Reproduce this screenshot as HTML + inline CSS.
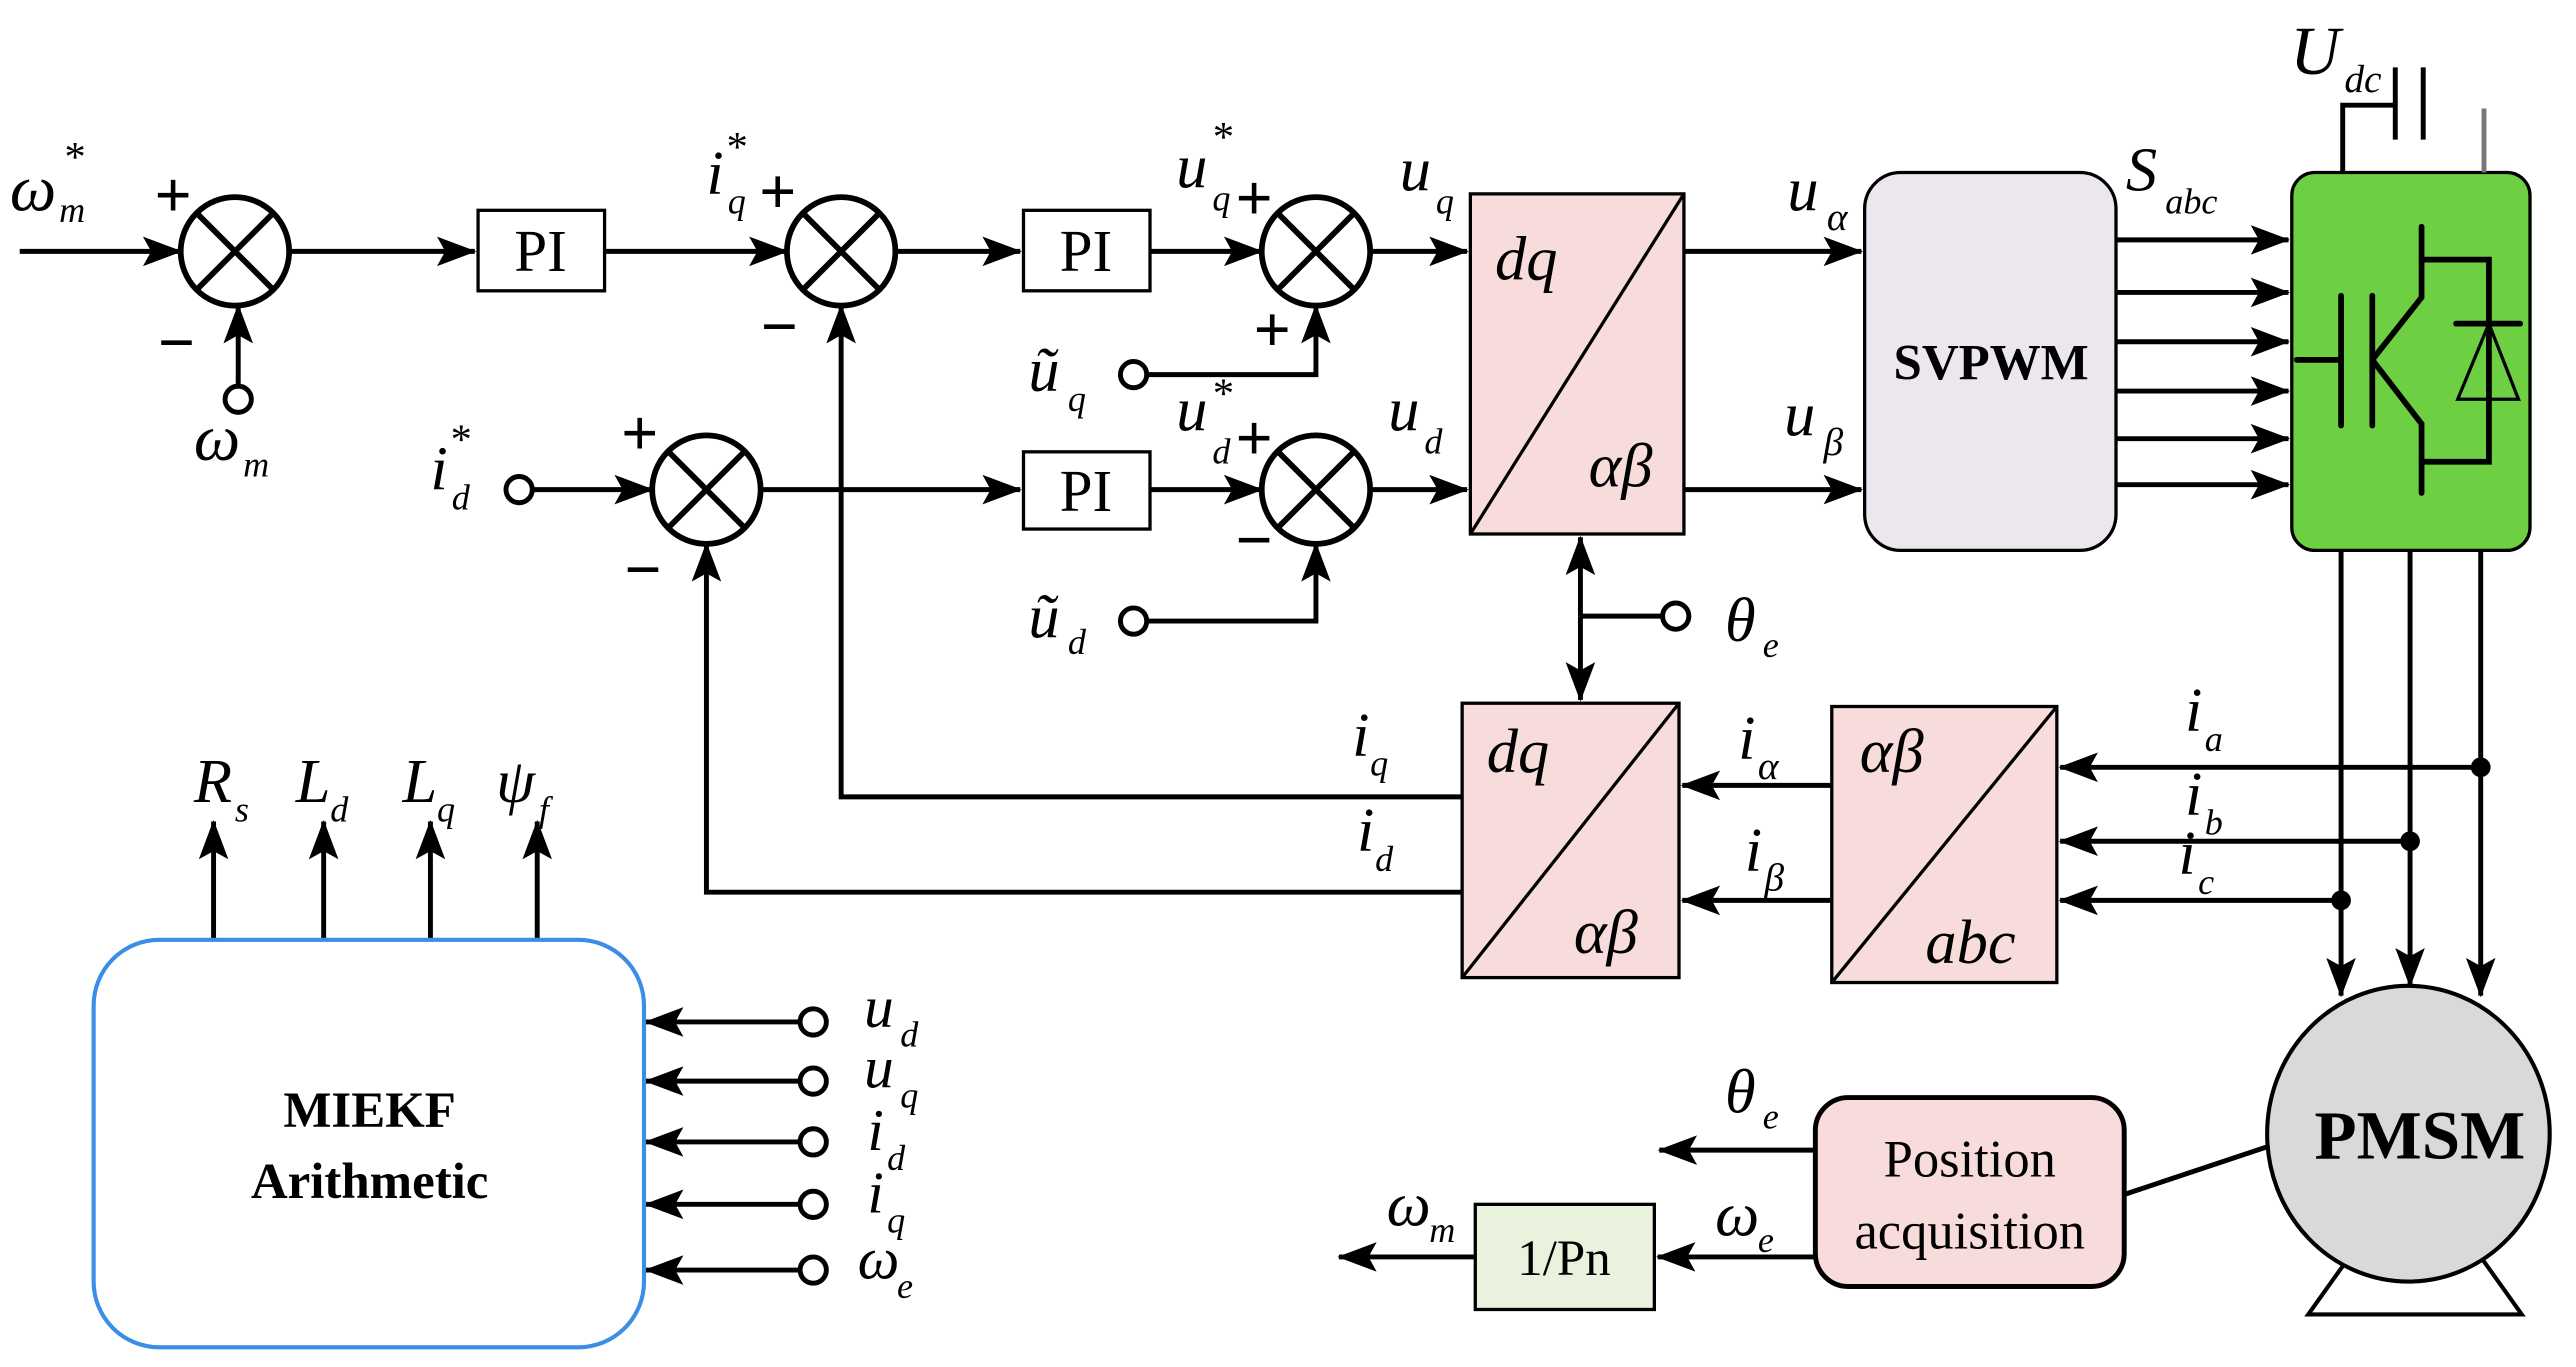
<!DOCTYPE html>
<html><head><meta charset="utf-8">
<style>
html,body{margin:0;padding:0;background:#fff;}
svg{display:block;}
.t{font-family:"Liberation Serif","DejaVu Serif","Times New Roman",serif;font-style:italic;fill:#000;}
.s{font-family:"Liberation Serif","DejaVu Serif","Times New Roman",serif;font-style:normal;fill:#000;}
.p{font-family:"Liberation Serif","DejaVu Serif","Times New Roman",serif;font-style:normal;font-weight:bold;fill:#000;}
.b{font-family:"Liberation Serif","DejaVu Serif","Times New Roman",serif;font-weight:bold;font-style:normal;fill:#000;}
</style></head>
<body>
<svg width="2576" height="1367" viewBox="0 0 1568 832" preserveAspectRatio="none" xmlns="http://www.w3.org/2000/svg">
<defs>
<marker id="a" markerUnits="userSpaceOnUse" markerWidth="24" markerHeight="18" refX="23" refY="9" orient="auto">
<path d="M0,0 L24,9 L0,18 L5,9 Z" fill="#000"/>
</marker>
</defs>
<g stroke="#000" stroke-width="3" fill="none">
<line x1="12" y1="153" x2="110" y2="153" marker-end="url(#a)"/>
<line x1="176" y1="153" x2="289" y2="153" marker-end="url(#a)"/>
<line x1="368" y1="153" x2="479" y2="153" marker-end="url(#a)"/>
<line x1="545" y1="153" x2="621" y2="153" marker-end="url(#a)"/>
<line x1="700" y1="153" x2="768" y2="153" marker-end="url(#a)"/>
<line x1="834" y1="153" x2="893" y2="153" marker-end="url(#a)"/>
<line x1="145" y1="234" x2="145" y2="186" marker-end="url(#a)"/>
<polyline points="699,228 801,228 801,186" marker-end="url(#a)"/>
<line x1="325" y1="298" x2="397" y2="298" marker-end="url(#a)"/>
<line x1="463" y1="298" x2="621" y2="298" marker-end="url(#a)"/>
<line x1="700" y1="298" x2="768" y2="298" marker-end="url(#a)"/>
<line x1="834" y1="298" x2="893" y2="298" marker-end="url(#a)"/>
<polyline points="699,378 801,378 801,331" marker-end="url(#a)"/>
<polyline points="890,485 512,485 512,186" marker-end="url(#a)"/>
<polyline points="890,543 430,543 430,331" marker-end="url(#a)"/>
<line x1="1025" y1="153" x2="1133" y2="153" marker-end="url(#a)"/>
<line x1="1025" y1="298" x2="1133" y2="298" marker-end="url(#a)"/>
<line x1="962" y1="375" x2="962" y2="327" marker-end="url(#a)"/>
<line x1="962" y1="375" x2="962" y2="426" marker-end="url(#a)"/>
<line x1="962" y1="375" x2="1011" y2="375"/>
<line x1="1288" y1="146" x2="1393" y2="146" marker-end="url(#a)"/>
<line x1="1288" y1="178" x2="1393" y2="178" marker-end="url(#a)"/>
<line x1="1288" y1="208" x2="1393" y2="208" marker-end="url(#a)"/>
<line x1="1288" y1="238" x2="1393" y2="238" marker-end="url(#a)"/>
<line x1="1288" y1="267" x2="1393" y2="267" marker-end="url(#a)"/>
<line x1="1288" y1="295" x2="1393" y2="295" marker-end="url(#a)"/>
<line x1="1425" y1="335" x2="1425" y2="606" marker-end="url(#a)"/>
<line x1="1467" y1="335" x2="1467" y2="600" marker-end="url(#a)"/>
<line x1="1510" y1="335" x2="1510" y2="606" marker-end="url(#a)"/>
<line x1="1510" y1="467" x2="1254" y2="467" marker-end="url(#a)"/>
<line x1="1467" y1="512" x2="1254" y2="512" marker-end="url(#a)"/>
<line x1="1425" y1="548" x2="1254" y2="548" marker-end="url(#a)"/>
<line x1="1115" y1="478" x2="1024" y2="478" marker-end="url(#a)"/>
<line x1="1115" y1="548" x2="1024" y2="548" marker-end="url(#a)"/>
<line x1="130" y1="572" x2="130" y2="500" marker-end="url(#a)"/>
<line x1="197" y1="572" x2="197" y2="500" marker-end="url(#a)"/>
<line x1="262" y1="572" x2="262" y2="500" marker-end="url(#a)"/>
<line x1="327" y1="572" x2="327" y2="500" marker-end="url(#a)"/>
<line x1="486" y1="622" x2="393" y2="622" marker-end="url(#a)"/>
<line x1="486" y1="658" x2="393" y2="658" marker-end="url(#a)"/>
<line x1="486" y1="695" x2="393" y2="695" marker-end="url(#a)"/>
<line x1="486" y1="733" x2="393" y2="733" marker-end="url(#a)"/>
<line x1="486" y1="773" x2="393" y2="773" marker-end="url(#a)"/>
<line x1="1105" y1="700" x2="1010" y2="700" marker-end="url(#a)"/>
<line x1="1105" y1="765" x2="1009" y2="765" marker-end="url(#a)"/>
<line x1="898" y1="765" x2="815" y2="765" marker-end="url(#a)"/>
<line x1="1293" y1="727" x2="1383" y2="697"/>
</g>
<circle cx="1510" cy="467" r="6" fill="#000"/>
<circle cx="1467" cy="512" r="6" fill="#000"/>
<circle cx="1425" cy="548" r="6" fill="#000"/>
<g stroke="#000" stroke-width="3" fill="#fff">
<circle cx="145" cy="243" r="8"/>
<circle cx="690" cy="228" r="8"/>
<circle cx="316" cy="298" r="8"/>
<circle cx="690" cy="378" r="8"/>
<circle cx="1020" cy="375" r="8"/>
<circle cx="495" cy="622" r="8"/>
<circle cx="495" cy="658" r="8"/>
<circle cx="495" cy="695" r="8"/>
<circle cx="495" cy="733" r="8"/>
<circle cx="495" cy="773" r="8"/>
</g>
<g stroke="#000" stroke-width="3.5" fill="#fff">
<g transform="translate(143,153)"><circle r="33"/><line x1="-23" y1="-23" x2="23" y2="23"/><line x1="-23" y1="23" x2="23" y2="-23"/></g>
<g transform="translate(512,153)"><circle r="33"/><line x1="-23" y1="-23" x2="23" y2="23"/><line x1="-23" y1="23" x2="23" y2="-23"/></g>
<g transform="translate(801,153)"><circle r="33"/><line x1="-23" y1="-23" x2="23" y2="23"/><line x1="-23" y1="23" x2="23" y2="-23"/></g>
<g transform="translate(430,298)"><circle r="33"/><line x1="-23" y1="-23" x2="23" y2="23"/><line x1="-23" y1="23" x2="23" y2="-23"/></g>
<g transform="translate(801,298)"><circle r="33"/><line x1="-23" y1="-23" x2="23" y2="23"/><line x1="-23" y1="23" x2="23" y2="-23"/></g>
</g>
<g stroke="#000" stroke-width="2" fill="#fff">
<rect x="291" y="128" width="77" height="49"/>
<rect x="623" y="128" width="77" height="49"/>
<rect x="623" y="275" width="77" height="47"/>
</g>
<text x="329" y="165" class="s" font-size="36" text-anchor="middle">PI</text>
<text x="661" y="165" class="s" font-size="36" text-anchor="middle">PI</text>
<text x="661" y="311" class="s" font-size="36" text-anchor="middle">PI</text>
<g stroke="#000" stroke-width="2" fill="#f8dcdc">
<rect x="895" y="118" width="130" height="207"/>
<rect x="890" y="428" width="132" height="167"/>
<rect x="1115" y="430" width="137" height="168"/>
</g>
<g stroke="#000" stroke-width="2">
<line x1="895" y1="325" x2="1025" y2="118"/>
<line x1="890" y1="595" x2="1022" y2="428"/>
<line x1="1115" y1="598" x2="1252" y2="430"/>
</g>
<text x="910" y="170" class="t" font-size="38">dq</text>
<text x="967" y="296" class="t" font-size="38">αβ</text>
<text x="905" y="470" class="t" font-size="38">dq</text>
<text x="958" y="580" class="t" font-size="38">αβ</text>
<text x="1132" y="470" class="t" font-size="38">αβ</text>
<text x="1172" y="586" class="t" font-size="38">abc</text>
<rect x="1135" y="105" width="153" height="230" rx="22" fill="#ece6ef" stroke="#000" stroke-width="2"/>
<text x="1212" y="231" class="b" font-size="31" text-anchor="middle">SVPWM</text>
<rect x="1395" y="105" width="145" height="230" rx="14" fill="#6dd042" stroke="#000" stroke-width="2"/>
<g stroke="#000" stroke-width="3.5" fill="none" stroke-linecap="round">
<line x1="1398" y1="219" x2="1425" y2="219"/>
<line x1="1425" y1="180" x2="1425" y2="259"/>
<line x1="1444" y1="180" x2="1444" y2="259"/>
<polyline points="1444,219 1474,181 1474,138"/>
<polyline points="1444,219 1474,258 1474,300"/>
<polyline points="1474,158 1515,158 1515,281 1474,281"/>
<line x1="1495" y1="197" x2="1534" y2="197"/>
</g>
<polygon points="1515,197 1496,243 1533,243" fill="none" stroke="#000" stroke-width="2"/>
<g stroke="#000" stroke-width="3" fill="none">
<polyline points="1426,105 1426,64 1458,64"/>
<line x1="1458" y1="41" x2="1458" y2="85"/>
<line x1="1475" y1="41" x2="1475" y2="85"/>
</g>
<line x1="1512" y1="66" x2="1512" y2="105" stroke="#777" stroke-width="3"/>
<text x="1394" y="45" class="t" font-size="42">U</text>
<text x="1427" y="56" class="t" font-size="24">dc</text>
<g stroke="#000" stroke-width="2.5" fill="none">
<polyline points="1430,765 1405,800 1535,800 1510,765"/>
</g>
<ellipse cx="1466" cy="690" rx="86" ry="90" fill="#d9d9d9" stroke="#000" stroke-width="2.5"/>
<text x="1473" y="705" class="b" font-size="42" text-anchor="middle">PMSM</text>
<rect x="1105" y="668" width="188" height="115" rx="20" fill="#f8dcdc" stroke="#000" stroke-width="3"/>
<text x="1199" y="716" class="s" font-size="32" text-anchor="middle">Position</text>
<text x="1199" y="760" class="s" font-size="32" text-anchor="middle">acquisition</text>
<rect x="898" y="733" width="109" height="64" fill="#e8f2dc" stroke="#000" stroke-width="2"/>
<text x="952" y="776" class="s" font-size="31" text-anchor="middle">1/Pn</text>
<rect x="57" y="572" width="335" height="248" rx="40" fill="#fff" stroke="#3a8ee6" stroke-width="2.5"/>
<text x="225" y="686" class="b" font-size="31" text-anchor="middle">MIEKF</text>
<text x="225" y="729" class="b" font-size="31" text-anchor="middle">Arithmetic</text>
<g class="t">
<text x="6" y="128" font-size="40">ω</text><text x="38" y="104" font-size="26">*</text><text x="36" y="135" font-size="22">m</text>
<text x="94" y="132" class="p" font-size="40">+</text>
<text x="96" y="222" class="p" font-size="40">−</text>
<text x="118" y="280" font-size="40">ω</text><text x="148" y="290" font-size="22">m</text>
<text x="430" y="118" font-size="38">i</text><text x="441" y="98" font-size="26">*</text><text x="443" y="130" font-size="22">q</text>
<text x="462" y="130" class="p" font-size="40">+</text>
<text x="463" y="212" class="p" font-size="40">−</text>
<text x="716" y="114" font-size="38">u</text><text x="737" y="92" font-size="26">*</text><text x="738" y="128" font-size="22">q</text>
<text x="752" y="134" class="p" font-size="40">+</text>
<text x="763" y="214" class="p" font-size="40">+</text>
<text x="626" y="238" font-size="38">ũ</text><text x="650" y="250" font-size="22">q</text>
<text x="852" y="116" font-size="38">u</text><text x="874" y="130" font-size="22">q</text>
<text x="1088" y="128" font-size="38">u</text><text x="1112" y="140" font-size="24">α</text>
<text x="1086" y="265" font-size="38">u</text><text x="1110" y="277" font-size="24">β</text>
<text x="1294" y="116" font-size="38">S</text><text x="1318" y="130" font-size="22">abc</text>
<text x="262" y="298" font-size="38">i</text><text x="273" y="276" font-size="26">*</text><text x="275" y="310" font-size="22">d</text>
<text x="378" y="277" class="p" font-size="40">+</text>
<text x="380" y="360" class="p" font-size="40">−</text>
<text x="716" y="262" font-size="38">u</text><text x="737" y="248" font-size="26">*</text><text x="738" y="282" font-size="22">d</text>
<text x="752" y="280" class="p" font-size="40">+</text>
<text x="752" y="342" class="p" font-size="40">−</text>
<text x="626" y="388" font-size="38">ũ</text><text x="650" y="398" font-size="22">d</text>
<text x="845" y="262" font-size="38">u</text><text x="867" y="276" font-size="22">d</text>
<text x="1050" y="390" font-size="38">θ</text><text x="1073" y="400" font-size="22">e</text>
<text x="823" y="460" font-size="38">i</text><text x="834" y="472" font-size="22">q</text>
<text x="826" y="518" font-size="38">i</text><text x="837" y="530" font-size="22">d</text>
<text x="1058" y="462" font-size="38">i</text><text x="1070" y="474" font-size="24">α</text>
<text x="1062" y="530" font-size="38">i</text><text x="1074" y="542" font-size="24">β</text>
<text x="1330" y="445" font-size="38">i</text><text x="1342" y="457" font-size="22">a</text>
<text x="1330" y="496" font-size="38">i</text><text x="1342" y="508" font-size="22">b</text>
<text x="1326" y="532" font-size="38">i</text><text x="1338" y="544" font-size="22">c</text>
<text x="118" y="488" font-size="38">R</text><text x="143" y="500" font-size="22">s</text>
<text x="180" y="488" font-size="38">L</text><text x="201" y="500" font-size="22">d</text>
<text x="245" y="488" font-size="38">L</text><text x="266" y="500" font-size="22">q</text>
<text x="302" y="488" font-size="38">ψ</text><text x="328" y="500" font-size="22">f</text>
<text x="526" y="625" font-size="36">u</text><text x="548" y="637" font-size="22">d</text>
<text x="526" y="662" font-size="36">u</text><text x="548" y="674" font-size="22">q</text>
<text x="528" y="700" font-size="36">i</text><text x="540" y="712" font-size="22">d</text>
<text x="528" y="738" font-size="36">i</text><text x="540" y="750" font-size="22">q</text>
<text x="522" y="778" font-size="36">ω</text><text x="546" y="790" font-size="22">e</text>
<text x="1050" y="677" font-size="38">θ</text><text x="1073" y="687" font-size="22">e</text>
<text x="1044" y="752" font-size="38">ω</text><text x="1070" y="762" font-size="22">e</text>
<text x="844" y="746" font-size="38">ω</text><text x="870" y="756" font-size="22">m</text>
</g>
</svg>
</body></html>
